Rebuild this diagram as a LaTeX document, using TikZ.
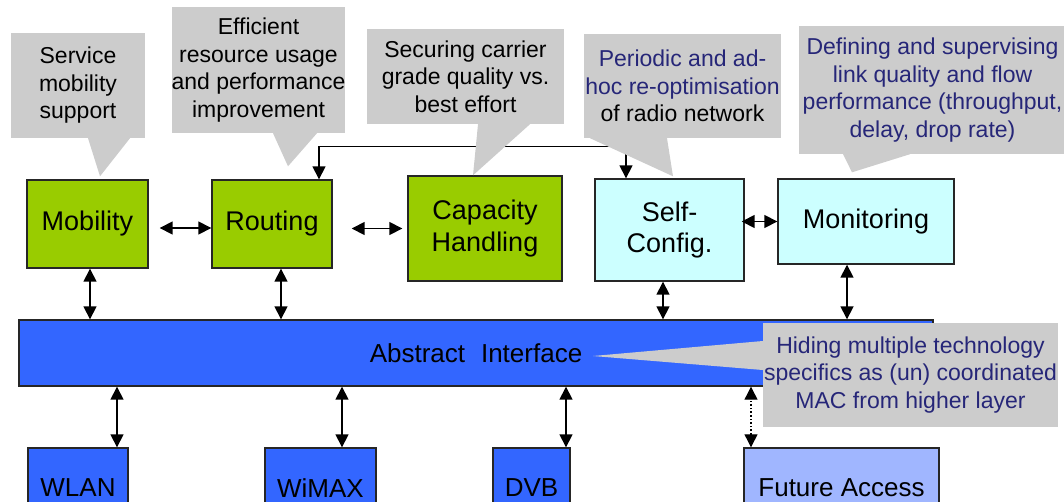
\documentclass[tikz,border=0pt]{standalone}
\usepackage{fontspec}
\setmainfont{Liberation Sans}
\usetikzlibrary{arrows.meta}

\definecolor{boxgreen}{RGB}{153,204,0}
\definecolor{boxcyan}{RGB}{204,255,255}
\definecolor{boxblue}{RGB}{51,102,255}
\definecolor{boxfuture}{RGB}{160,182,255}
\definecolor{calloutgray}{RGB}{204,204,204}
\definecolor{calloutblue}{RGB}{38,38,120}

\begin{document}
\begin{tikzpicture}[x=1pt,y=-1pt,
    block/.style={draw=black!85, line width=1.4pt, align=center, inner sep=0pt,
        font=\fontsize{27}{31.5}\selectfont},
    netbox/.style={block, fill=boxblue, font=\fontsize{26}{30}\selectfont},
    callout/.style={fill=calloutgray, align=center, inner sep=0pt,
        font=\fontsize{23}{27.5}\selectfont},
    dbl/.style={{Triangle[length=13pt,width=13pt]}-{Triangle[length=13pt,width=13pt]}, line width=1.6pt}]

\useasboundingbox (0,0) rectangle (1064,501);
\clip (0,0) rectangle (1064,501);

% functional blocks
\node[block, fill=boxgreen, minimum width=121, minimum height=88] (mob) at (87.5,224) {Mobility};
\node[block, fill=boxgreen, minimum width=120, minimum height=88] (rout) at (272,224) {Routing};
\node[block, fill=boxgreen, minimum width=154, minimum height=105] (cap) at (485,228.5) {Capacity\\Handling};
\node[block, fill=boxcyan, minimum width=149, minimum height=102] (self) at (669.5,230) {Self-\\Config.};
\node[block, fill=boxcyan, minimum width=176, minimum height=85] (mon) at (866,221.5) {Monitoring};

\node[netbox, minimum width=914, minimum height=66] (bar) at (476,353) {Abstract\,\, Interface};

% access technologies
\node[netbox, minimum width=100, minimum height=80] (wlan) at (78,488) {WLAN};
\node[netbox, minimum width=111, minimum height=80] (wimax) at (320.5,488) {WiMAX};
\node[netbox, minimum width=77, minimum height=80] (dvb) at (531.5,488) {DVB};
\node[netbox, fill=boxfuture, minimum width=195, minimum height=80] (future) at (841.5,488) {Future Access};

% links between blocks
\draw[dbl] ([xshift=11pt,yshift=-4pt]mob.east) -- ([yshift=-4pt]rout.west);
\draw[dbl] ([xshift=19pt,yshift=-4.5pt]rout.east) -- ([xshift=-5pt]cap.west);
\draw[dbl] ([xshift=-3pt]self.east |- mon.west) -- (mon.west);
\draw[dbl] ([xshift=47pt]rout.north) -- ++(0,-33) -| ([xshift=-43.5pt]self.north);

\draw[dbl] ([xshift=2.5pt]mob.south) -- ([xshift=2.5pt]mob.south |- bar.north);
\draw[dbl] ([xshift=9pt]rout.south) -- ([xshift=9pt]rout.south |- bar.north);
\draw[dbl] ([xshift=-6.5pt]self.south) -- ([xshift=-6.5pt]self.south |- bar.north);
\draw[dbl] ([xshift=-19pt]mon.south) -- ([xshift=-19pt]mon.south |- bar.north);

\draw[dbl] ([xshift=39pt]wlan.north) -- ([xshift=39pt]wlan.north |- bar.south);
\draw[dbl] ([xshift=21.5pt]wimax.north) -- ([xshift=21.5pt]wimax.north |- bar.south);
\draw[dbl] ([xshift=34.5pt]dvb.north) -- ([xshift=34.5pt]dvb.north |- bar.south);
\draw[dbl, dotted, line width=1.2pt] ([xshift=-90.5pt]future.north) -- ([xshift=-90.5pt]future.north |- bar.south);

% callouts
\node[callout, minimum width=134, minimum height=105] (c1) at (78,85.5) {Service\\mobility\\support};
\fill[calloutgray] ([xshift=10pt]c1.south) -- ([xshift=12.5pt,yshift=3pt]mob.north) -- ([xshift=52pt]c1.south);

\node[callout, minimum width=173, minimum height=126] (c2) at (258.5,70) {Efficient\\resource usage\\and performance\\improvement};
\fill[calloutgray] ([xshift=14.5pt]c2.south) -- ([xshift=16pt,yshift=13pt]rout.north) -- ([xshift=58.5pt]c2.south);

\node[callout, minimum width=197, minimum height=95] (c3) at (465.5,76.5) {Securing carrier\\grade quality vs.\\best effort};
\fill[calloutgray] ([xshift=12.5pt]c3.south) -- ([xshift=-12pt]cap.north) -- ([xshift=64.5pt]c3.south);

\node[callout, minimum width=197, minimum height=104] (c4) at (682.5,86)
    {\textcolor{calloutblue}{Periodic and ad-}\\\textcolor{calloutblue}{hoc re-optimisation}\\of radio network};
\fill[calloutgray] ([xshift=-92.5pt]c4.south) -- ([xshift=3.5pt,yshift=2pt]self.north) -- ([xshift=-15.5pt]c4.south);

\node[callout, text=calloutblue, minimum width=267, minimum height=128] (c5) at (932.5,90)
    {Defining and supervising\\link quality and flow\\performance (throughput,\\delay, drop rate)};
\fill[calloutgray] ([xshift=-89.5pt]c5.south) -- ([xshift=-14pt,yshift=6pt]mon.north) -- ([xshift=-22.5pt]c5.south);

\node[callout, text=calloutblue, minimum width=295, minimum height=104] (c6) at (910.5,375)
    {Hiding multiple technology\\specifics as (un) coordinated\\MAC from higher layer};
\fill[calloutgray] ([yshift=34pt]c6.west) -- ([xshift=117pt,yshift=-3pt]bar.center) -- ([yshift=5pt]c6.west);

\end{tikzpicture}
\end{document}
